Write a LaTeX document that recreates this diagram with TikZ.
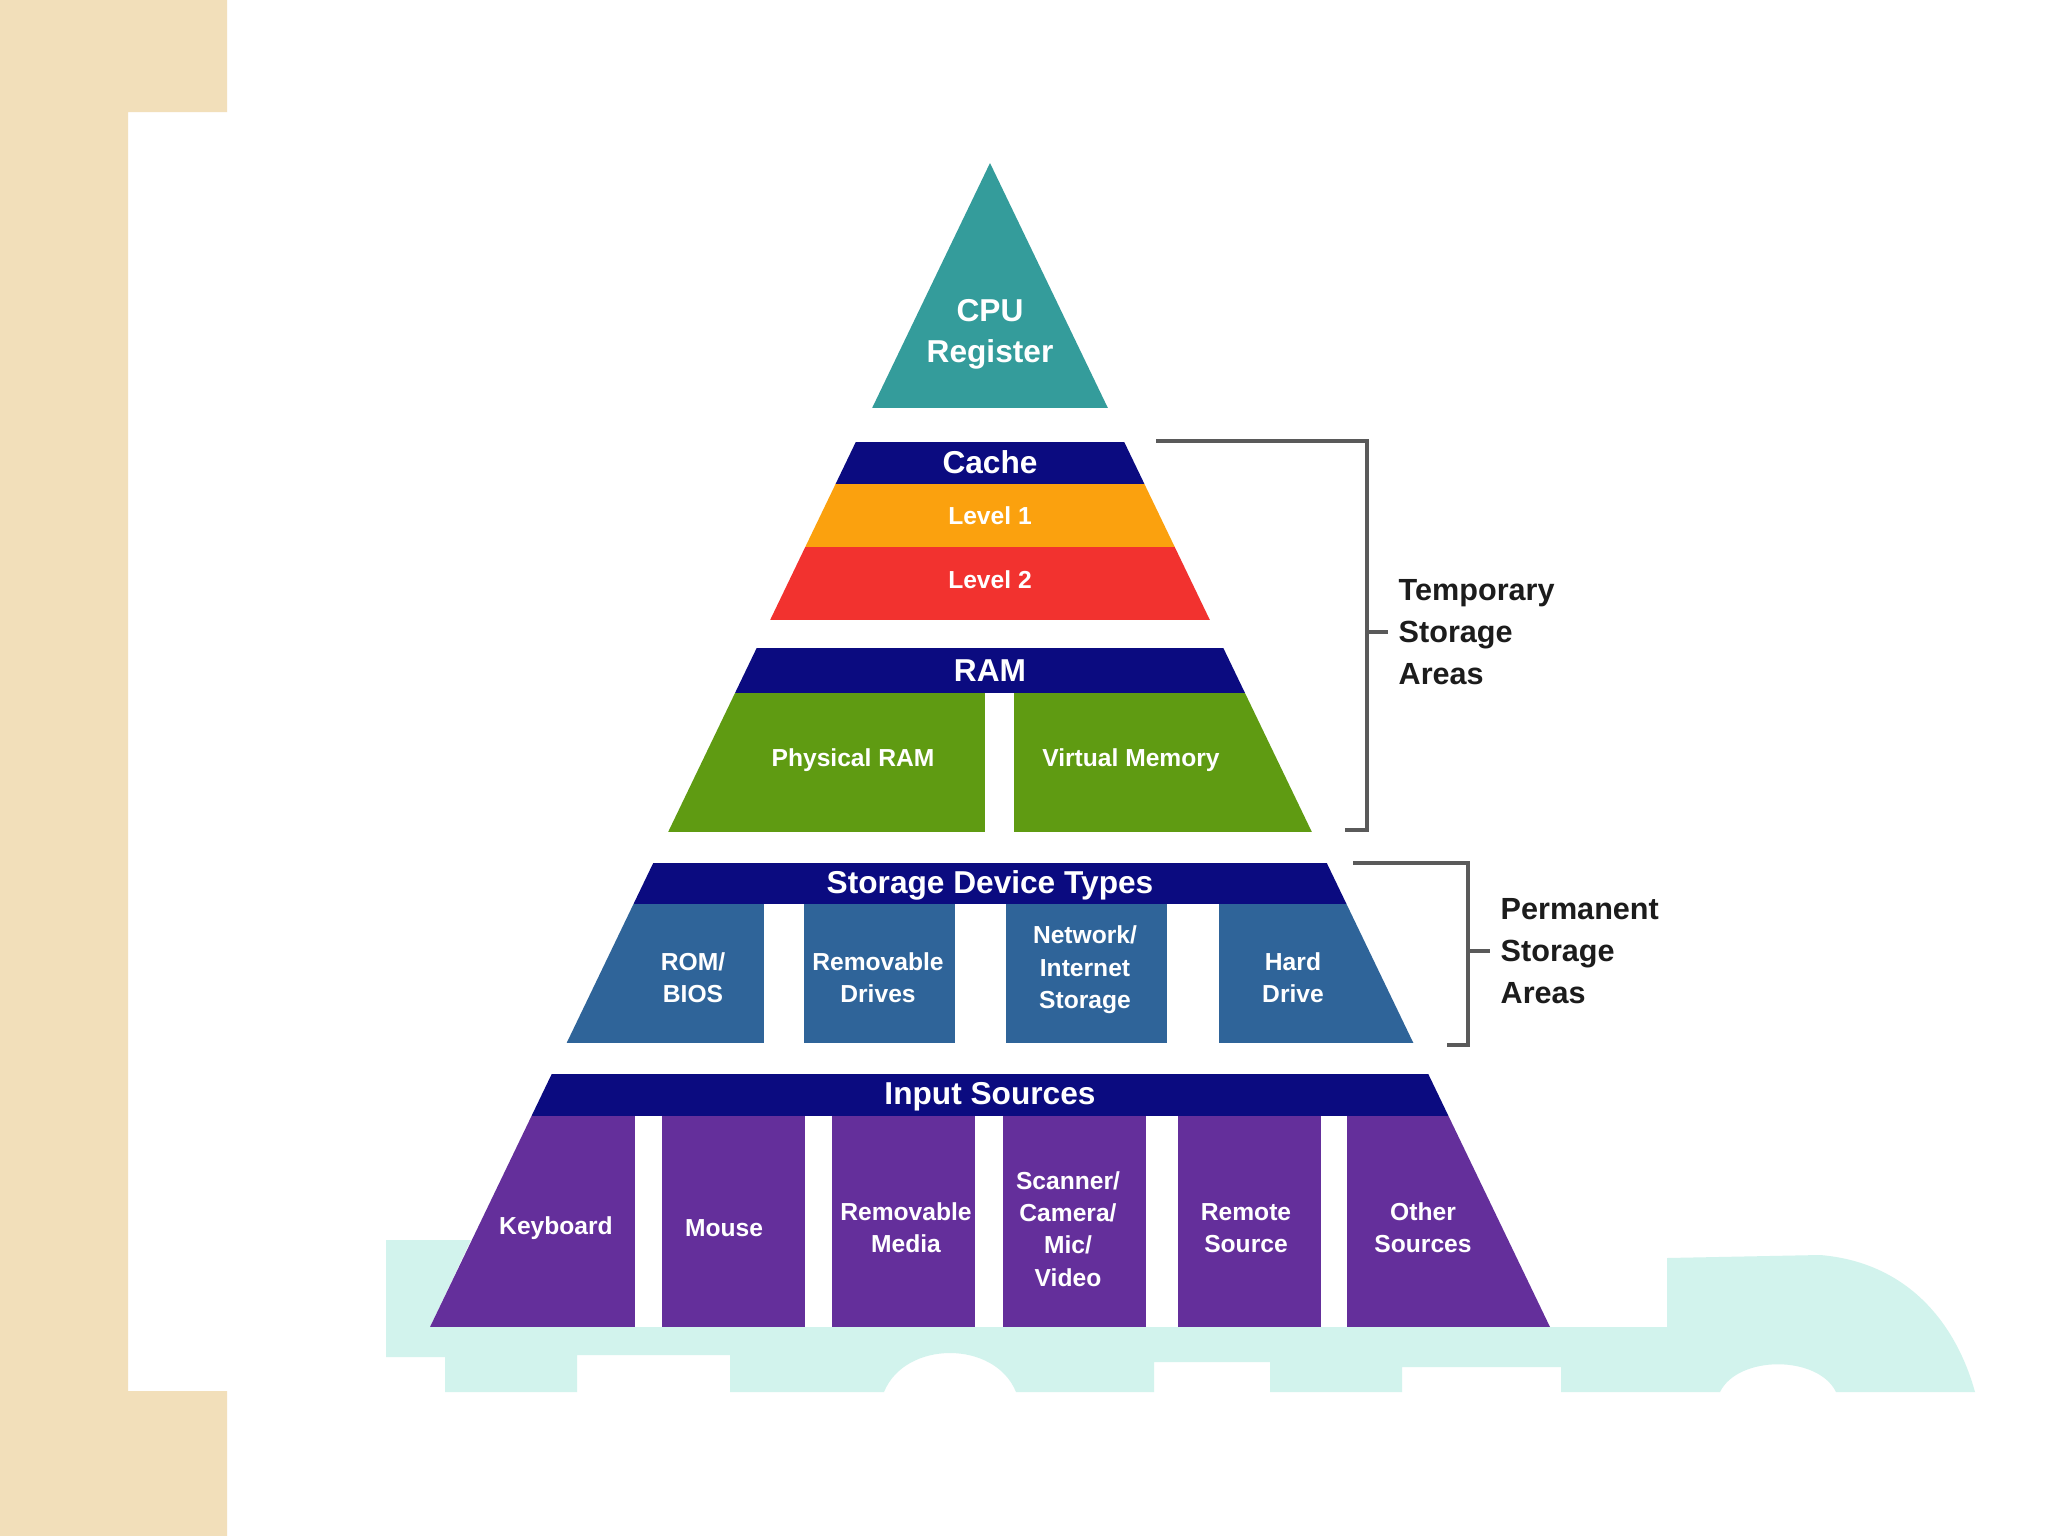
\documentclass[tikz,border=0pt]{standalone}
\usepackage{fontspec}
\setmainfont{Liberation Sans}
\definecolor{cputeal}{HTML}{349C9B}
\definecolor{navy}{HTML}{0B0B80}
\definecolor{levelone}{HTML}{FBA10E}
\definecolor{leveltwo}{HTML}{F2322F}
\definecolor{ramgreen}{HTML}{5F9B12}
\definecolor{diskblue}{HTML}{2F6499}
\definecolor{inpurple}{HTML}{642F9B}
\definecolor{beige}{HTML}{F2DFBA}
\definecolor{mint}{HTML}{D2F3ED}
\definecolor{gray700}{HTML}{5A5A5A}
\definecolor{ink}{HTML}{1C1C1C}

\begin{document}
\begin{tikzpicture}[
  x=0.01cm, y=-0.01cm,
  hdr/.style={font=\fontsize{9}{11.6}\selectfont\bfseries, text=white, align=center, inner sep=0pt},
  cell/.style={font=\fontsize{7}{9.2}\selectfont\bfseries, text=white, align=center, inner sep=0pt},
  tag/.style={font=\fontsize{8.7}{11.9}\selectfont\bfseries, text=ink, align=left, anchor=west, inner xsep=0.1cm, inner ysep=0pt},
  brace/.style={draw=gray700, line width=0.9pt},
]

% Page
\fill[white] (0,0) rectangle (2048,1536);
\useasboundingbox (0,0) rectangle (2048,1536);
\fill[beige] (0,0) -- (227,0) -- (227,112) -- (128,112) -- (128,1391) -- (227,1391) -- (227,1536) -- (0,1536) -- cycle;

% Watermark
\fill[mint] (386,1240) -- (471,1240) -- (430,1327) -- (1667,1327) -- (1667,1258) -- (1820,1255)
  .. controls (1905,1262) and (1955,1320) .. (1975,1392) -- (1836,1392)
  .. controls (1818,1355) and (1738,1355) .. (1720,1392) -- (1561,1392) -- (1561,1367) -- (1402,1367)
  -- (1402,1392) -- (1270,1392) -- (1270,1362) -- (1154,1362) -- (1154,1392) -- (1016,1392)
  .. controls (995,1340) and (905,1340) .. (884,1392) -- (730,1392) -- (730,1355) -- (577,1355)
  -- (577,1392) -- (445,1392) -- (445,1357) -- (386,1357) -- cycle;

% Pyramid
\begin{scope}
\clip (990,163) -- (1550,1327) -- (430,1327) -- cycle;
\fill[cputeal] (0,163) rectangle (2048,408);
\fill[navy] (0,442) rectangle (2048,484);
\fill[levelone] (0,484) rectangle (2048,547);
\fill[leveltwo] (0,547) rectangle (2048,620);
\fill[navy] (0,648) rectangle (2048,693);
\fill[ramgreen] (0,693) rectangle (985,832);
\fill[ramgreen] (1014,693) rectangle (2048,832);
\fill[navy] (0,863) rectangle (2048,904);
\fill[diskblue] (0,904) rectangle (764,1043);
\fill[diskblue] (804,904) rectangle (955,1043);
\fill[diskblue] (1006,904) rectangle (1167,1043);
\fill[diskblue] (1219,904) rectangle (2048,1043);
\fill[navy] (0,1074) rectangle (2048,1116);
\fill[inpurple] (0,1116) rectangle (635,1327);
\fill[inpurple] (662,1116) rectangle (805,1327);
\fill[inpurple] (832,1116) rectangle (975,1327);
\fill[inpurple] (1003,1116) rectangle (1146,1327);
\fill[inpurple] (1178,1116) rectangle (1321,1327);
\fill[inpurple] (1347,1116) rectangle (2048,1327);
\end{scope}

% Labels
\node[hdr] (cpu) at (990,334) {CPU\\Register};
\node[hdr] (cache) at (990,462) {Cache};
\node[cell] (lone) at (990,516) {Level 1};
\node[cell] (ltwo) at (990,580) {Level 2};
\node[hdr] (ram) at (990,671) {RAM};
\node[cell] (physram) at (853,760) {Physical RAM};
\node[cell] (virtmem) at (1131,760) {Virtual Memory};
\node[hdr] (devtypes) at (990,885) {Storage Device Types};
\node[cell] (rombios) at (693,978) {ROM/\\BIOS};
\node[cell] (remdrives) at (878,978) {Removable\\Drives};
\node[cell] (netstore) at (1085,970) {Network/\\Internet\\Storage};
\node[cell] (harddrive) at (1293,978) {Hard\\Drive};
\node[hdr] (inputs) at (990,1097) {Input Sources};
\node[cell] (keyboard) at (556,1228) {Keyboard};
\node[cell] (mouse) at (724,1228) {Mouse};
\node[cell] (remmedia) at (906,1228) {Removable\\Media};
\node[cell] (scanner) at (1068,1229) {Scanner/\\Camera/\\Mic/\\Video};
\node[cell] (remote) at (1246,1228) {Remote\\Source};
\node[cell] (other) at (1423,1228) {Other\\Sources};

% Brackets
\node[tag] (temp) at (1388,632) {Temporary\\Storage\\Areas};
\node[tag] (perm) at (1490,951) {Permanent\\Storage\\Areas};
\draw[brace] (1156,441) -- (1367,441) -- (1367,830) -- (1345,830);
\draw[brace] (1367,632) -- (temp.west);
\draw[brace] (1353,863) -- (1468,863) -- (1468,1045) -- (1447,1045);
\draw[brace] (1468,951) -- (perm.west);

\end{tikzpicture}
\end{document}
